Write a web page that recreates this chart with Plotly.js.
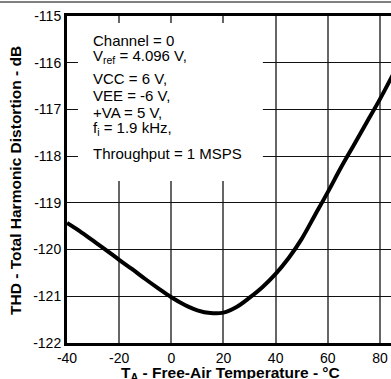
<!DOCTYPE html>
<html>
<head>
<meta charset="utf-8">
<script src="https://cdn.plot.ly/plotly-3.0.1.min.js"></script>
<style>html,body{margin:0;padding:0;background:#fff;}#chart{width:391px;height:379px;}</style>
</head>
<body>
<div id="chart"></div>
<script>
// Data
const temperature = [-40, -35, -30, -25, -20, -15, -10, -5, 0, 5, 10, 15, 20, 25, 30, 35, 40, 45, 50, 55, 60, 65, 70, 75, 80, 85];
const thd = [-119.43, -119.61, -119.81, -120.01, -120.22, -120.42, -120.63, -120.83, -121.02, -121.18, -121.3, -121.36, -121.35, -121.23, -121.03, -120.8, -120.52, -120.18, -119.77, -119.27, -118.77, -118.25, -117.76, -117.27, -116.78, -116.25];
const xTicks = [-40, -20, 0, 20, 40, 60, 80];
const yTicks = [-122, -121, -120, -119, -118, -117, -116, -115];
const xTitle = "<b>T<sub>A</sub> - Free-Air Temperature - °C</b>";
const yTitle = "<b>THD - Total Harmonic Distortion - dB</b>";
const conditionLines = [
  "Channel = 0",
  "V<sub>ref</sub> = 4.096 V,",
  "VCC = 6 V,",
  "VEE = -6 V,",
  "+VA = 5 V,",
  "f<sub>i</sub> = 1.9 kHz,",
  "Throughput = 1 MSPS"
];

const W = 391, H = 379;
const m = {l: 67, r: 0, t: 16, b: 36};
const plotH = H - m.t - m.b;
const plotW = W - m.l - m.r;
const py = p => (H - m.b - p) / plotH;   // pixel row -> paper y
const px = p => (p - m.l) / plotW;       // pixel column -> paper x

const font = "'Liberation Sans', Arial, Helvetica, sans-serif";
const lineCenters = [40, 57, 78, 95, 112, 128, 153];

const annotations = conditionLines.map((t, i) => ({
  text: t, xref: 'paper', yref: 'paper', x: px(91), y: py(lineCenters[i]),
  xanchor: 'left', yanchor: 'middle', showarrow: false,
  font: {family: font, size: 15, color: '#000'}
}));
annotations.push({
  text: xTitle, xref: 'paper', yref: 'paper', x: px(230), y: py(362),
  xanchor: 'center', yanchor: 'top', showarrow: false,
  font: {family: font, size: 15.5, color: '#000'}
});
annotations.push({
  text: yTitle, xref: 'paper', yref: 'paper', x: px(15), y: py(181),
  xanchor: 'center', yanchor: 'middle', textangle: -90, showarrow: false,
  font: {family: font, size: 15.5, color: '#000'}
});

const data = [{
  x: temperature, y: thd, type: 'scatter', mode: 'lines',
  line: {color: '#000', width: 4, shape: 'spline', smoothing: 1},
  hoverinfo: 'skip'
}];

const layout = {
  width: W, height: H,
  margin: m,
  paper_bgcolor: '#fff', plot_bgcolor: '#fff',
  showlegend: false,
  font: {family: font, size: 14, color: '#000'},
  xaxis: {
    range: [-40, -40 + plotW / 2.608],
    tickvals: xTicks, ticktext: xTicks.map(String),
    showgrid: true, gridcolor: '#666', gridwidth: 2,
    showline: true, linecolor: '#000', linewidth: 3, mirror: true,
    ticks: '', zeroline: false,
    tickfont: {family: font, size: 14, color: '#000'},
    automargin: false
  },
  yaxis: {
    range: [-122, -115],
    tickvals: yTicks, ticktext: yTicks.map(String),
    showgrid: true, gridcolor: '#111', gridwidth: 1,
    showline: true, linecolor: '#000', linewidth: 3, mirror: false,
    ticks: '', zeroline: false,
    tickfont: {family: font, size: 14, color: '#000'},
    automargin: false
  },
  shapes: [
    {type: 'rect', xref: 'x', yref: 'y', x0: -35.8, x1: 35.1, y0: -118.53, y1: -115.15,
     fillcolor: '#fff', line: {width: 0}, layer: 'between'},
    {type: 'line', xref: 'paper', yref: 'paper', x0: px(0), x1: px(W), y0: py(2), y1: py(2),
     line: {color: '#000', width: 1}}
  ],
  annotations: annotations
};

Plotly.newPlot('chart', data, layout, {staticPlot: true, displayModeBar: false});
</script>
</body>
</html>
